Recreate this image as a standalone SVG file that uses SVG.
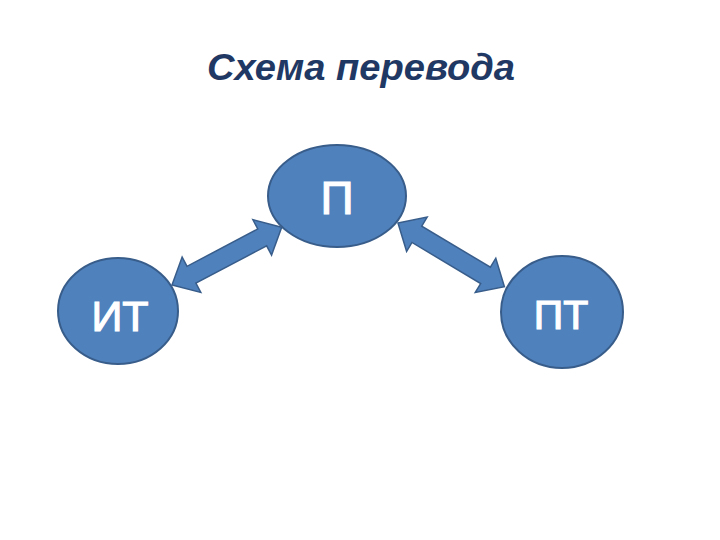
<svg xmlns="http://www.w3.org/2000/svg" xmlns:xlink="http://www.w3.org/1999/xlink" width="720" height="540" viewBox="0 0 720 540">
  <style>
    .node { fill: #4F81BD; stroke: #385D8A; stroke-width: 2; }
    .lbl { font-family: "Liberation Sans", Arial, sans-serif; fill: #FFFFFF; stroke: #FFFFFF; stroke-width: 1.2; text-anchor: middle; }
    .title { font-family: "Liberation Sans", Arial, sans-serif; font-weight: bold; font-style: italic; fill: #1F3864; }
    .arrow { fill: #4F81BD; stroke: #385D8A; stroke-width: 1.5; stroke-linejoin: miter; }
  </style>
  <defs>
    <path id="dblArrow" d="M0,0 L22,-20 L22,-9.5 L102,-9.5 L102,-20 L124,0 L102,20 L102,9.5 L22,9.5 L22,20 Z"/>
  </defs>
  <rect width="720" height="540" fill="#FFFFFF"/>
  <text class="title" x="207" y="80" font-size="37" textLength="308" lengthAdjust="spacingAndGlyphs">Схема перевода</text>
  <g id="connectors">
    <use xlink:href="#dblArrow" class="arrow" transform="translate(172,285) rotate(-27.8)"/>
    <use xlink:href="#dblArrow" class="arrow" transform="translate(398,223) rotate(30.9)"/>
  </g>
  <g id="node-P">
    <ellipse class="node" cx="337" cy="196" rx="69" ry="51"/>
    <text class="lbl" x="337" y="214" font-size="46">П</text>
  </g>
  <g id="node-IT">
    <ellipse class="node" cx="118" cy="311" rx="60" ry="53"/>
    <text class="lbl" x="120" y="331" font-size="43">ИТ</text>
  </g>
  <g id="node-PT">
    <ellipse class="node" cx="562" cy="312" rx="61" ry="56"/>
    <text class="lbl" x="561" y="329" font-size="41">ПТ</text>
  </g>
</svg>
